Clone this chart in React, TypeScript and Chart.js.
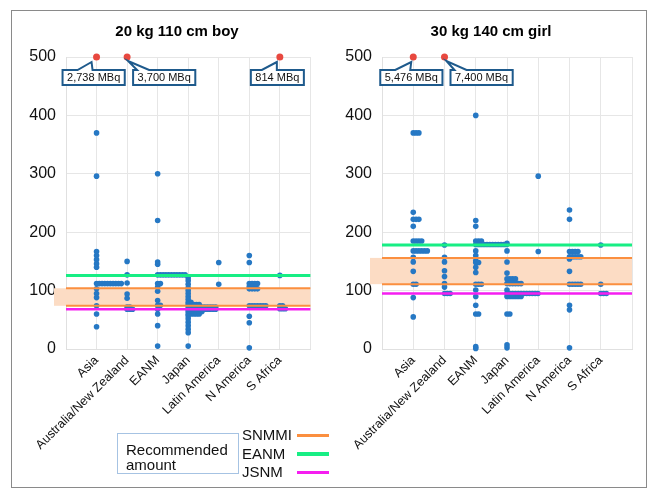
import React, { useEffect, useRef } from 'react';
import { Chart, registerables } from 'chart.js';
Chart.register(...registerables);

const FONT = '"Liberation Sans", Arial, sans-serif';

const categories = ['Asia', 'Australia/New Zealand', 'EANM', 'Japan', 'Latin America', 'N America', 'S Africa'];
const yTicks = [0, 100, 200, 300, 400, 500];

// 20 kg 110 cm boy (MBq)
const boyAsia = [370, 296, 167, 160, 153, 146, 140, 112, 112, 112, 112, 112, 112, 112, 112, 112, 112, 103, 95, 88, 74, 60, 38];
const boyAustraliaNZ = [150, 127, 113, 94, 87, 72, 72, 68, 68, 68];
const boyEANM = [300, 220, 149, 145, 127, 127, 127, 127, 127, 127, 127, 127, 127, 127, 127, 112, 112, 106, 99, 83, 75, 75, 68, 60, 40, 5];
const boyJapan = [122, 117, 111, 105, 100, 95, 90, 85, 80, 80, 76, 76, 76, 76, 76, 72, 72, 72, 72, 72, 72, 72, 72, 72, 72, 72, 68, 68, 68, 68, 68, 68, 68, 68, 68, 68, 68, 64, 64, 64, 64, 64, 64, 60, 60, 60, 60, 60, 57, 52, 46, 40, 34, 28, 5];
const boyLatinAmerica = [148, 111];
const boyNAmerica = [160, 148, 112, 112, 112, 112, 107, 107, 107, 103, 103, 103, 103, 74, 74, 74, 74, 74, 74, 74, 56, 45, 2];
const boySAfrica = [126, 74, 74, 69, 69, 69];
const boyValues = [boyAsia, boyAustraliaNZ, boyEANM, boyJapan, boyLatinAmerica, boyNAmerica, boySAfrica];
const boyOutlierCats = [1, 2, 7];
const boyOutlierLabels = ['2,738 MBq', '3,700 MBq', '814 MBq'];
const boySNMMI = [74, 104];
const boyEANMRec = 126;
const boyJSNM = 68;

// 30 kg 140 cm girl (MBq)
const girlAsia = [370, 370, 370, 234, 222, 222, 222, 210, 185, 185, 185, 185, 168, 168, 168, 168, 168, 168, 157, 149, 133, 111, 111, 88, 55];
const girlAustraliaNZ = [178, 157, 149, 134, 124, 112, 106, 95, 95, 95];
const girlEANM = [400, 220, 210, 185, 185, 185, 179, 179, 179, 179, 179, 179, 179, 179, 179, 179, 179, 179, 168, 160, 151, 148, 148, 140, 131, 111, 111, 111, 101, 90, 75, 60, 60, 4, 1];
const girlJapan = [181, 168, 149, 130, 120, 120, 120, 120, 112, 112, 112, 112, 112, 112, 101, 95, 95, 95, 95, 95, 95, 95, 95, 95, 95, 95, 95, 90, 90, 90, 90, 90, 90, 60, 60, 7, 2];
const girlLatinAmerica = [296, 167];
const girlNAmerica = [238, 222, 167, 167, 167, 167, 158, 158, 158, 158, 158, 154, 133, 111, 111, 111, 111, 111, 75, 67, 2];
const girlSAfrica = [178, 111, 95, 95, 95];
const girlValues = [girlAsia, girlAustraliaNZ, girlEANM, girlJapan, girlLatinAmerica, girlNAmerica, girlSAfrica];
const girlOutlierCats = [1, 2];
const girlOutlierLabels = ['5,476 MBq', '7,400 MBq'];
const girlSNMMI = [111, 156];
const girlEANMRec = 178;
const girlJSNM = 95;

const OUTLIER_VALUE = 500;

// callout geometry styles (relative to outlier point pixel)
const boyCalloutStyle = [
  { boxLeft: -34, a: -19, b: -4, tipX: -5, tipY: 5 },
  { boxLeft: 6, a: 10, b: 22, tipX: 1, tipY: 4 },
  { boxLeft: -29, a: -18, b: -3, tipX: -3, tipY: 5 },
];
const girlCalloutStyle = [
  { boxLeft: -33, a: -18, b: -3, tipX: -2, tipY: 5 },
  { boxLeft: 6, a: 10, b: 22, tipX: 2, tipY: 4 },
];

const STACK_DX = 0.09;

function dotPoints(values: number[][]) {
  const pts: { x: number; y: number }[] = [];
  values.forEach((vals, ci) => {
    const seen: Record<string, number> = {};
    vals.forEach((v) => {
      const k = seen[v] || 0;
      seen[v] = k + 1;
      pts.push({ x: ci + 1 + k * STACK_DX, y: v });
    });
  });
  return pts;
}

const panelPlugin = {
  id: 'panel',
  beforeDatasetsDraw(chart: any, _a: any, opts: any) {
    const { ctx, chartArea, scales } = chart;
    const y = scales.y;
    const top = y.getPixelForValue(opts.band[1]);
    const bot = y.getPixelForValue(opts.band[0]);
    ctx.save();
    ctx.fillStyle = '#fcdcc4';
    ctx.fillRect(chartArea.left - 12, top, chartArea.right - chartArea.left + 12, bot - top);
    ctx.restore();
  },
  afterDraw(chart: any, _a: any, opts: any) {
    const { ctx, scales } = chart;
    ctx.save();
    ctx.fillStyle = '#000';
    ctx.font = `bold 15px ${FONT}`;
    ctx.textAlign = 'center';
    ctx.textBaseline = 'middle';
    ctx.fillText(opts.title, opts.titleX, 32);
    ctx.font = `11px ${FONT}`;
    opts.cats.forEach((c: number, i: number) => {
      const st = opts.styles[i];
      const px = scales.x.getPixelForValue(c);
      const py = scales.y.getPixelForValue(OUTLIER_VALUE);
      const text = opts.labels[i];
      const w = ctx.measureText(text).width + 9;
      const bx = px + st.boxLeft;
      const by = py + 13;
      const h = 15;
      ctx.beginPath();
      ctx.moveTo(bx, by);
      ctx.lineTo(px + st.a, by);
      ctx.lineTo(px + st.tipX, py + st.tipY);
      ctx.lineTo(px + st.b, by);
      ctx.lineTo(bx + w, by);
      ctx.lineTo(bx + w, by + h);
      ctx.lineTo(bx, by + h);
      ctx.closePath();
      ctx.fillStyle = '#fff';
      ctx.fill();
      ctx.strokeStyle = '#1e5a8c';
      ctx.lineWidth = 2;
      ctx.lineJoin = 'miter';
      ctx.stroke();
      ctx.fillStyle = '#111';
      ctx.textAlign = 'center';
      ctx.fillText(text, bx + w / 2, by + h / 2 + 0.5);
    });
    ctx.restore();
  },
};

function makeConfig(p: any) {
  const lineDs = (v: number, color: string, width: number) => ({
    type: 'scatter',
    data: [{ x: 0, y: v }, { x: 8, y: v }],
    showLine: true,
    borderColor: color,
    borderWidth: width,
    pointRadius: 0,
    order: 0,
    clip: false,
  });
  return {
    type: 'scatter',
    data: {
      datasets: [
        lineDs(p.snmmi[0], '#fb8f3f', 2),
        lineDs(p.snmmi[1], '#fb8f3f', 2),
        lineDs(p.eanm, '#17ee84', 3),
        lineDs(p.jsnm, '#f51ef0', 2.5),
        {
          data: dotPoints(p.values),
          pointRadius: 2.8,
          backgroundColor: '#2678c4',
          borderWidth: 0,
          order: 1,
          clip: false,
        },
        {
          data: p.cats.map((c: number) => ({ x: c, y: OUTLIER_VALUE })),
          pointRadius: 3.5,
          backgroundColor: '#e8483f',
          borderWidth: 0,
          order: 1,
          clip: false,
        },
      ],
    },
    options: {
      animation: false,
      responsive: false,
      events: [],
      layout: { padding: { top: 57, right: p.rightPad, left: 0, bottom: 0 } },
      plugins: {
        legend: { display: false },
        tooltip: { enabled: false },
        panel: { title: p.title, titleX: p.titleX, band: p.snmmi, cats: p.cats, labels: p.labels, styles: p.styles },
      },
      scales: {
        x: {
          type: 'linear',
          min: 0,
          max: 8,
          afterFit: (s: any) => { s.height = 140; },
          afterBuildTicks: (s: any) => { s.ticks = [0, 1, 2, 3, 4, 5, 6, 7, 8].map((v) => ({ value: v })); },
          grid: { color: '#e6e6e6', drawTicks: false },
          border: { color: '#e0e0e0' },
          ticks: {
            autoSkip: false,
            minRotation: 45,
            maxRotation: 45,
            padding: 4,
            color: '#111',
            font: { family: FONT, size: 12.5 },
            callback: (v: number) => (v >= 1 && v <= 7 ? categories[v - 1] : ''),
          },
        },
        y: {
          min: 0,
          max: 500,
          afterFit: (s: any) => { s.width = p.yWidth; },
          afterBuildTicks: (s: any) => { s.ticks = yTicks.map((v) => ({ value: v })); },
          grid: { color: '#e6e6e6', drawTicks: false },
          border: { color: '#e0e0e0' },
          ticks: {
            padding: 10,
            color: '#111',
            font: { family: FONT, size: 16 },
          },
        },
      },
    },
    plugins: [panelPlugin],
  };
}

function Panel({ p, left }: { p: any; left: number }) {
  const ref = useRef<HTMLCanvasElement>(null);
  useEffect(() => {
    const chart = new Chart(ref.current as HTMLCanvasElement, makeConfig(p) as any);
    return () => chart.destroy();
  }, []);
  return (
    <canvas ref={ref} width={325} height={489} style={{ position: 'absolute', left, top: 0, width: 325, height: 489 }} />
  );
}

const boyPanel = {
  title: '20 kg 110 cm boy', titleX: 177, values: boyValues, cats: boyOutlierCats, labels: boyOutlierLabels,
  styles: boyCalloutStyle, snmmi: boySNMMI, eanm: boyEANMRec, jsnm: boyJSNM, yWidth: 66, rightPad: 8,
};
const girlPanel = {
  title: '30 kg 140 cm girl', titleX: 491 - 325, values: girlValues, cats: girlOutlierCats, labels: girlOutlierLabels,
  styles: girlCalloutStyle, snmmi: girlSNMMI, eanm: girlEANMRec, jsnm: girlJSNM, yWidth: 57, rightPad: 18,
};

const legendItems = [
  { label: 'SNMMI', color: '#fb8f3f', width: 3 },
  { label: 'EANM', color: '#17ee84', width: 4 },
  { label: 'JSNM', color: '#f51ef0', width: 3 },
];

export default function App() {
  useEffect(() => {
    document.body.style.margin = '0';
  }, []);
  return (
    <div style={{ position: 'relative', width: 650, height: 489, overflow: 'hidden', background: '#fff', fontFamily: FONT }}>
      <Panel p={boyPanel} left={0} />
      <Panel p={girlPanel} left={325} />
      <div style={{ position: 'absolute', left: 11, top: 10, width: 634, height: 476, border: '1px solid #8a8a8a', pointerEvents: 'none' }} />
      <div style={{ position: 'absolute', left: 117, top: 433, width: 120, height: 39, border: '1px solid #a6c3e3', fontSize: 15, lineHeight: '15px', color: '#111' }}>
        <div style={{ position: 'absolute', left: 8, top: 8 }}>Recommended</div>
        <div style={{ position: 'absolute', left: 8, top: 23 }}>amount</div>
      </div>
      {legendItems.map((it, i) => (
        <React.Fragment key={it.label}>
          <div style={{ position: 'absolute', left: 242, top: 427 + i * 18.5, fontSize: 15, lineHeight: '16px', color: '#111' }}>{it.label}</div>
          <div style={{ position: 'absolute', left: 297, top: 435 + i * 18.5 - it.width / 2, width: 32, height: it.width, background: it.color }} />
        </React.Fragment>
      ))}
    </div>
  );
}
